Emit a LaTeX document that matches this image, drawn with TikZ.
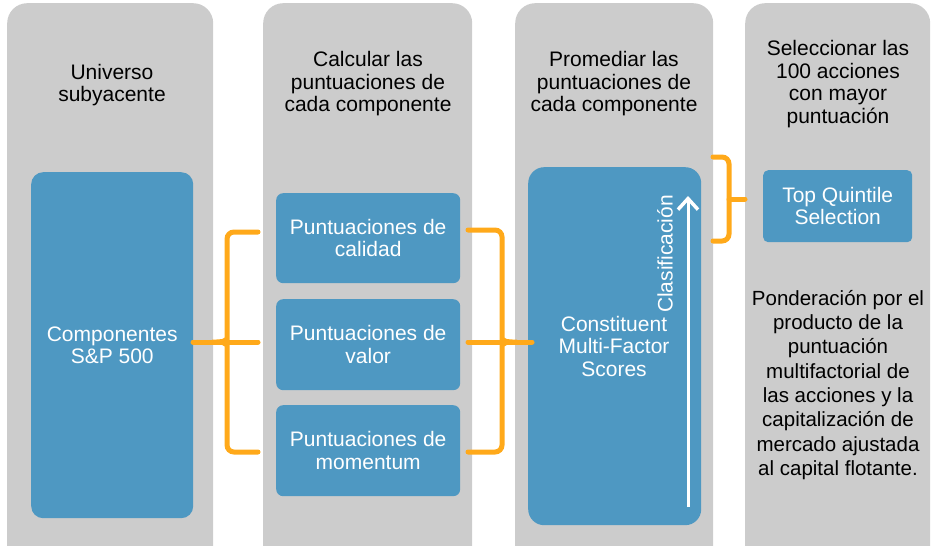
\documentclass[tikz,border=0pt]{standalone}
\usepackage{fontspec}
\setmainfont{Liberation Sans}
\usetikzlibrary{arrows.meta}
\definecolor{colgray}{RGB}{204,204,204}
\definecolor{boxblue}{RGB}{78,152,194}
\definecolor{brorange}{RGB}{255,169,26}
\begin{document}
\begin{tikzpicture}[x=1pt,y=-1pt,
  column/.style={fill=colgray, rounded corners=20pt, anchor=north west, inner sep=0pt},
  bluebox/.style={fill=boxblue, anchor=north west, inner sep=0pt, text=white, align=center,
    font=\fontsize{21}{22.5}\selectfont},
  head/.style={align=center, text=black, font=\fontsize{21}{22.5}\selectfont},
  body/.style={align=center, text=black, font=\fontsize{20.5}{24.3}\selectfont},
  brace/.style={draw=brorange, line width=5pt, rounded corners=7pt, line cap=round},
  flare/.style={fill=brorange}
]
\useasboundingbox (0,0) rectangle (935,546);
\clip (0,0) rectangle (935,546);
% columns
\node[column, minimum width=206pt, minimum height=570pt] (col1) at (7,3) {};
\node[column, minimum width=209pt, minimum height=570pt] (col2) at (263,3) {};
\node[column, minimum width=198pt, minimum height=570pt] (col3) at (515,3) {};
\node[column, minimum width=185pt, minimum height=570pt] (col4) at (745,3) {};
% headers
\node[head] (h1) at (112,85) {Universo\\subyacente};
\node[head] (h2) at (368,84) {Calcular las\\puntuaciones de\\cada componente};
\node[head] (h3) at (614,84) {Promediar las\\puntuaciones de\\cada componente};
\node[head] (h4) at (838,84) {Seleccionar las\\100 acciones\\con mayor\\puntuación};
% blue boxes
\node[bluebox, rounded corners=12pt, minimum width=162pt, minimum height=346pt] (comp) at (31,172) {Componentes\\S\&P 500};
\node[bluebox, rounded corners=7pt, minimum width=184pt, minimum height=90pt] (cal) at (276,193) {Puntuaciones de\\calidad};
\node[bluebox, rounded corners=7pt, minimum width=184pt, minimum height=91pt] (val) at (276,299) {Puntuaciones de\\valor};
\node[bluebox, rounded corners=7pt, minimum width=184pt, minimum height=91pt] (mom) at (276,405) {Puntuaciones de\\momentum};
\node[bluebox, rounded corners=16pt, minimum width=173pt, minimum height=358pt] (cmf) at (528,167) {};
\node[white, align=center, font=\fontsize{21}{22.5}\selectfont] (cmft) at (614,346) {Constituent\\Multi-Factor\\Scores};
\node[bluebox, rounded corners=5pt, minimum width=149pt, minimum height=72pt] (tq) at (763,170) {Top Quintile\\Selection};
\node[body] (pond) at (838,385) {Ponderación por el\\producto de la\\puntuación\\multifactorial de\\las acciones y la\\capitalización de\\mercado ajustada\\al capital flotante.};
% ranking arrow
\coordinate (abot) at (688,507);
\coordinate (atop) at (688,196);
\draw[white, line width=3pt, -{Straight Barb[length=11pt,width=20pt,line width=3.5pt]}] (abot) -- (atop);
\node[white, rotate=90, font=\fontsize{21}{22.5}\selectfont] (clas) at (665,254) {Clasificación};
% bracket 1
\coordinate (b1tip) at (193,342);
\coordinate (b1top) at (258,232);
\coordinate (b1bot) at (258,452);
\coordinate (b1v) at (227,342);
\coordinate (b1mid) at (258,342);
\draw[brace] (b1top) -| (b1v) |- (b1bot);
\draw[brace] (b1tip) -- (b1mid);
\fill[flare] (227,334) .. controls (225,340) and (221,339.5) .. (212,339.5) -- (212,344.5) .. controls (221,344.5) and (225,344) .. (227,350) -- cycle;
% bracket 2
\coordinate (b2tip) at (532,342);
\coordinate (b2top) at (468,230);
\coordinate (b2bot) at (468,452);
\coordinate (b2v) at (502,342);
\coordinate (b2mid) at (468,342);
\draw[brace] (b2top) -| (b2v) |- (b2bot);
\draw[brace] (b2mid) -- (b2tip);
\fill[flare] (502,334) .. controls (504,340) and (508,339.5) .. (517,339.5) -- (517,344.5) .. controls (508,344.5) and (504,344) .. (502,350) -- cycle;
% bracket 3
\coordinate (b3tip) at (745,199);
\coordinate (b3top) at (713,157);
\coordinate (b3bot) at (713,241);
\coordinate (b3v) at (729,199);
\draw[brace] (b3top) -| (b3v) |- (b3bot);
\draw[brace] (b3v) -- (b3tip);
\end{tikzpicture}
\end{document}
